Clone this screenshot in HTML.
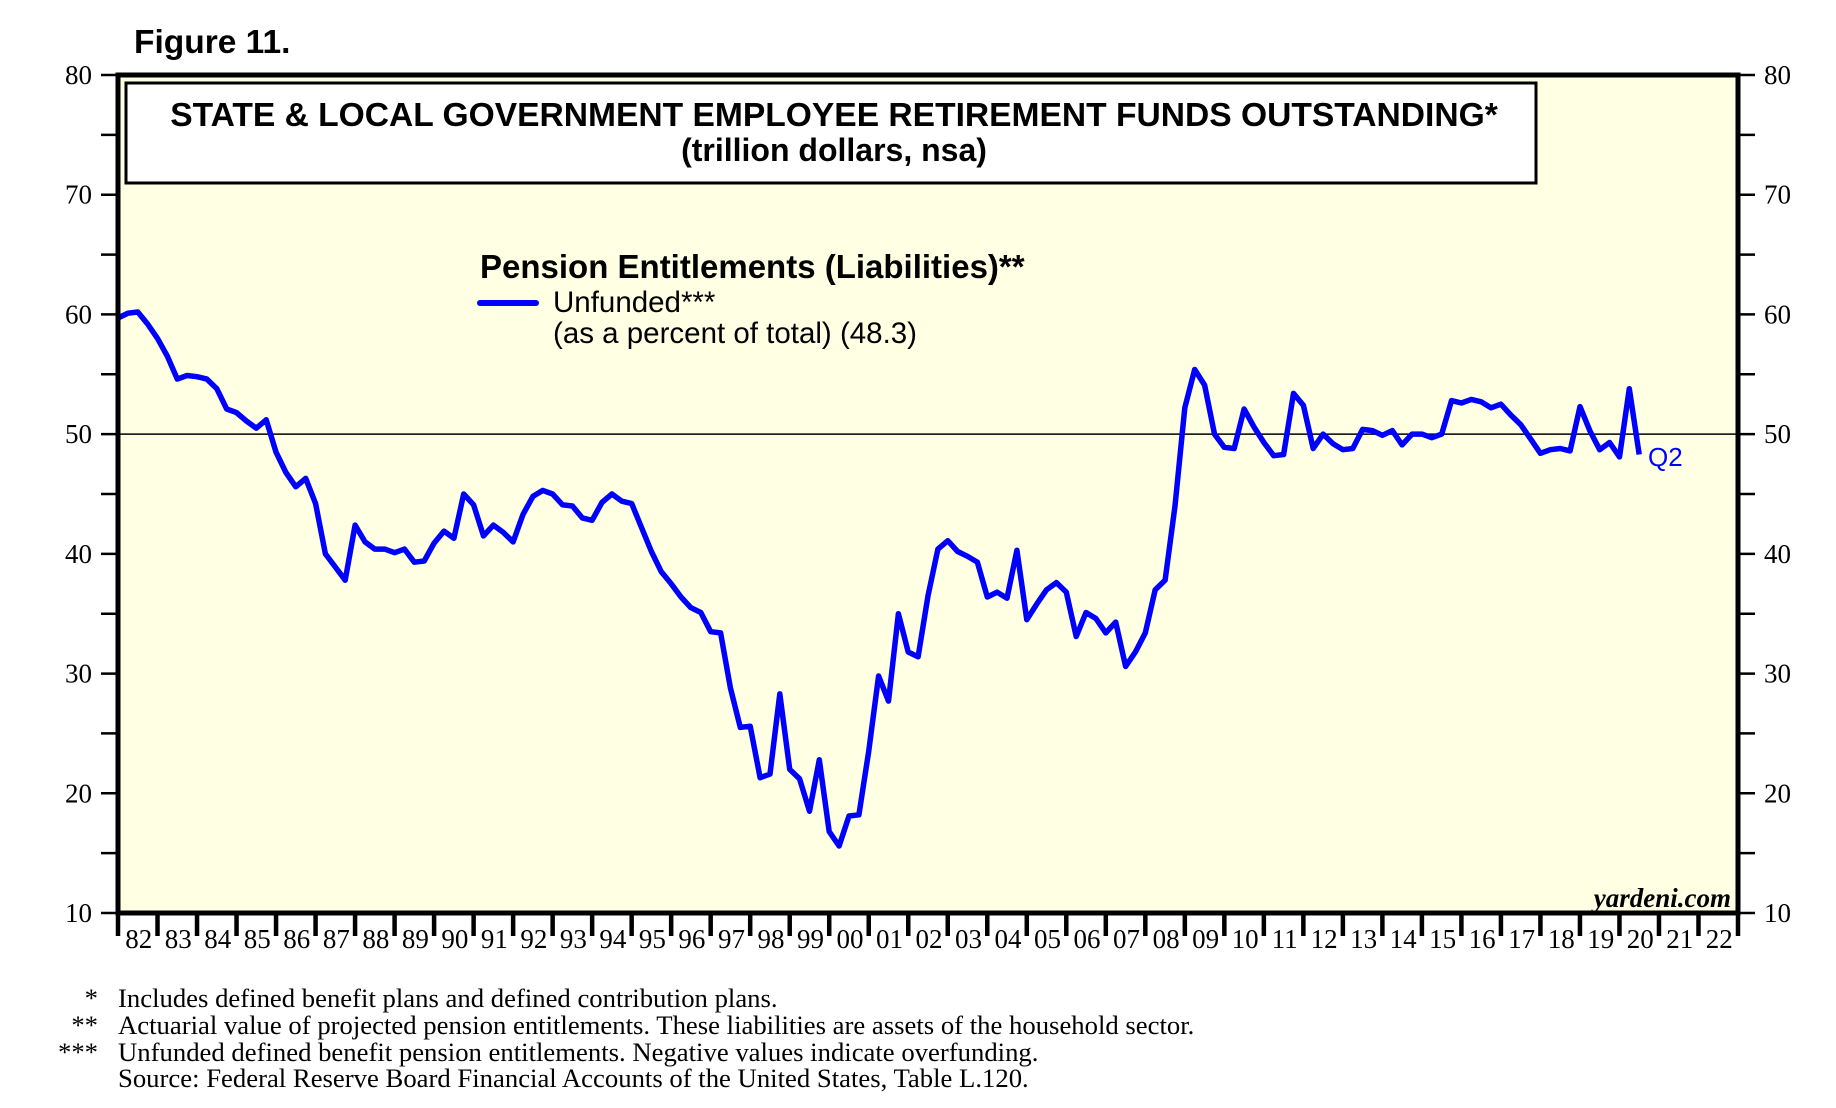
<!DOCTYPE html>
<html><head><meta charset="utf-8"><style>
html,body{margin:0;padding:0;background:#fff;}
svg{display:block;}
</style></head><body>
<svg id="chart" width="1836" height="1108" viewBox="0 0 1836 1108" xmlns="http://www.w3.org/2000/svg">
<text x="134" y="53" font-family="Liberation Sans, sans-serif" font-weight="bold" font-size="33.5">Figure 11.</text>
<rect x="118" y="75" width="1620" height="838" fill="#ffffe4"/>
<g id="grid"></g>
<g id="series"></g>
<rect x="118" y="75" width="1620" height="838" fill="none" stroke="#000" stroke-width="5"/>
<rect x="126" y="83" width="1410" height="100" fill="#fff" stroke="#000" stroke-width="3"/>
<text x="834" y="126" text-anchor="middle" font-family="Liberation Sans, sans-serif" font-weight="bold" font-size="33.6">STATE &amp; LOCAL GOVERNMENT EMPLOYEE RETIREMENT FUNDS OUTSTANDING*</text>
<text x="834" y="161" text-anchor="middle" font-family="Liberation Sans, sans-serif" font-weight="bold" font-size="32">(trillion dollars, nsa)</text>
<text x="480" y="278" font-family="Liberation Sans, sans-serif" font-weight="bold" font-size="33">Pension Entitlements (Liabilities)**</text>
<line x1="480" y1="303" x2="536" y2="303" stroke="#0000ff" stroke-width="6" stroke-linecap="round"/>
<text x="553" y="312" font-family="Liberation Sans, sans-serif" font-size="29.5">Unfunded***</text>
<text x="553" y="343" font-family="Liberation Sans, sans-serif" font-size="29.5">(as a percent of total) (48.3)</text>
<text x="1648" y="466" fill="#0000ff" font-family="Liberation Sans, sans-serif" font-size="26">Q2</text>
<text x="1731" y="907" text-anchor="end" font-family="Liberation Serif, serif" font-weight="bold" font-style="italic" font-size="27">yardeni.com</text>
<g font-family="Liberation Serif, serif" font-size="26.7">
<text x="98" y="1007" text-anchor="end">*</text><text x="118" y="1007">Includes defined benefit plans and defined contribution plans.</text>
<text x="98" y="1034" text-anchor="end">**</text><text x="118" y="1034">Actuarial value of projected pension entitlements. These liabilities are assets of the household sector.</text>
<text x="98" y="1061" text-anchor="end">***</text><text x="118" y="1061">Unfunded defined benefit pension entitlements. Negative values indicate overfunding.</text>
<text x="118" y="1087">Source: Federal Reserve Board Financial Accounts of the United States, Table L.120.</text>
</g>
<g id="axes"></g>
</svg>
<script>
const yTicks = [10,20,30,40,50,60,70,80];
const yearLabels = ["82","83","84","85","86","87","88","89","90","91","92","93","94","95","96","97","98","99","00","01","02","03","04","05","06","07","08","09","10","11","12","13","14","15","16","17","18","19","20","21","22"];
const startYear = 1982;
const unfunded = [59.7,60.1,60.2,59.2,58.0,56.5,54.6,54.9,54.8,54.6,53.8,52.1,51.8,51.1,50.5,51.2,48.5,46.8,45.6,46.3,44.2,40.0,38.9,37.8,42.4,41.0,40.4,40.4,40.1,40.4,39.3,39.4,40.9,41.9,41.3,45.0,44.1,41.5,42.4,41.8,41.0,43.3,44.8,45.3,45.0,44.1,44.0,43.0,42.8,44.3,45.0,44.4,44.2,42.2,40.2,38.5,37.5,36.4,35.5,35.1,33.5,33.4,28.8,25.5,25.6,21.3,21.6,28.3,22.0,21.2,18.5,22.8,16.8,15.6,18.1,18.2,23.5,29.8,27.7,35.0,31.8,31.4,36.5,40.4,41.1,40.2,39.8,39.3,36.4,36.8,36.3,40.3,34.5,35.8,37.0,37.6,36.8,33.1,35.1,34.6,33.4,34.3,30.6,31.8,33.4,37.0,37.8,44.0,52.2,55.4,54.1,50.0,48.9,48.8,52.1,50.6,49.3,48.2,48.3,53.4,52.4,48.8,50.0,49.2,48.7,48.8,50.4,50.3,49.9,50.3,49.1,50.0,50.0,49.7,50.0,52.8,52.6,52.9,52.7,52.2,52.5,51.6,50.8,49.6,48.4,48.7,48.8,48.6,52.3,50.3,48.7,49.3,48.1,53.8,48.3];

const NS = "http://www.w3.org/2000/svg";
const X0 = 118, X1 = 1738, Y0 = 913, Y1 = 75;
const xScale = t => X0 + (t - startYear) / 41 * (X1 - X0);
const yScale = v => Y0 - (v - 10) / 70 * (Y0 - Y1);
function mk(tag, attrs, parent) {
  const el = document.createElementNS(NS, tag);
  for (const k in attrs) el.setAttribute(k, attrs[k]);
  parent.appendChild(el);
  return el;
}
const axes = document.getElementById('axes');
const grid = document.getElementById('grid');
const series = document.getElementById('series');

const ref = mk('line', {x1: X0, x2: X1, y1: yScale(50), y2: yScale(50), stroke: '#000', 'stroke-width': 1.5}, grid);



for (let v = 10; v <= 80; v += 5) {
  const y = yScale(v);
  const tl = mk('line', {x1: X0 - 17, x2: X0, y1: y, y2: y, stroke: '#000', 'stroke-width': 2.5}, axes);
  
  
  const tr = mk('line', {x1: X1, x2: X1 + 17, y1: y, y2: y, stroke: '#000', 'stroke-width': 2.5}, axes);
  
  
}
yTicks.forEach(v => {
  const y = yScale(v) + 9;
  const l = mk('text', {x: 92, y: y, 'text-anchor': 'end', 'font-family': 'Liberation Serif, serif', 'font-size': 27}, axes);
  l.textContent = v;
  
  
  const r = mk('text', {x: 1764, y: y, 'font-family': 'Liberation Serif, serif', 'font-size': 27}, axes);
  r.textContent = v;
  
  
});
for (let i = 0; i <= yearLabels.length; i++) {
  const x = xScale(startYear + i);
  const t = mk('line', {x1: x, x2: x, y1: Y0, y2: 936, stroke: '#000', 'stroke-width': 4.5}, axes);
  
  
}
yearLabels.forEach((lab, i) => {
  const x = xScale(startYear + i + 0.5) + 1;
  const t = mk('text', {x: x, y: 948, 'text-anchor': 'middle', 'font-family': 'Liberation Serif, serif', 'font-size': 27}, axes);
  t.textContent = lab;
  
  
});
const pts = unfunded.map((v, i) => xScale(startYear + i * 0.25).toFixed(1) + ',' + yScale(v).toFixed(1)).join(' ');
const line = mk('polyline', {points: pts, fill: 'none', stroke: '#0000ff', 'stroke-width': 5.5, 'stroke-linejoin': 'round'}, series);


</script>
</body></html>
